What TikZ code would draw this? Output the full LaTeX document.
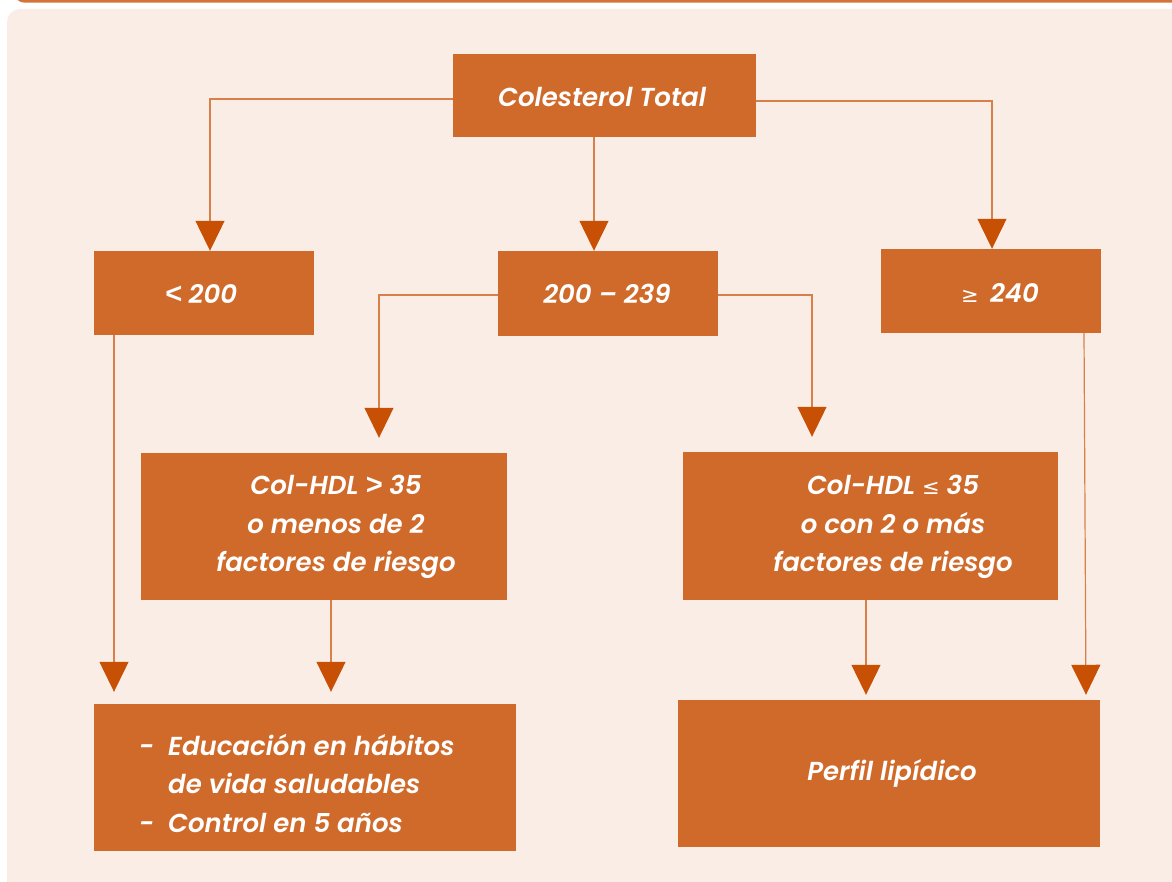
\documentclass[tikz,border=0pt]{standalone}
\usepackage{fontspec}
\setmainfont{Poppins}[UprightFont={* SemiBold}, ItalicFont={* SemiBold Italic}]
\newfontfamily\symfont{DejaVu Sans}
\newfontfamily\ltfont{Liberation Sans}[UprightFont={* Bold Italic}]
\usetikzlibrary{arrows.meta}
\definecolor{panel}{HTML}{FAEDE5}
\definecolor{boxc}{HTML}{D06A2A}
\definecolor{tipc}{HTML}{C85005}
\definecolor{linec}{HTML}{D9804A}
\definecolor{topc}{HTML}{D4733A}
\newcommand{\cmpsym}[1]{{\ltfont\upshape\fontsize{29}{29}\selectfont #1}}
\newcommand{\eqsym}[1]{{\symfont\upshape\fontsize{21}{21}\selectfont #1}}
\begin{document}
\begin{tikzpicture}[x=1pt,y=-1pt,
  box/.style={fill=boxc, draw=none, inner sep=0pt},
  txt/.style={text=white, inner sep=0pt, align=center, font=\fontsize{26}{38.5}\selectfont\itshape},
  conn/.style={draw=linec, line width=1.2pt, -{Triangle[width=29pt,length=30pt,color=tipc,fill=tipc]}}
]
\useasboundingbox (0,0) rectangle (1172,882);
\fill[white] (0,0) rectangle (1172,882);
% top rule and panel
\begin{scope}
\clip (0,0) rectangle (1172,882);
\fill[topc, rounded corners=9pt] (15,-20) rectangle (1200,2.6);
\fill[panel, rounded corners=13pt] (7,9) rectangle (1210,920);
\end{scope}

% boxes
\node[box, minimum width=303pt, minimum height=83pt] (top) at (604.5,95.5) {};
\node[box, minimum width=220pt, minimum height=84pt] (lt) at (204,293) {};
\node[box, minimum width=220pt, minimum height=85pt] (mid) at (608,293.5) {};
\node[box, minimum width=220pt, minimum height=84pt] (rt) at (991,291) {};
\node[box, minimum width=366pt, minimum height=147pt] (hdla) at (324,526.5) {};
\node[box, minimum width=375pt, minimum height=148pt] (hdlb) at (870.5,526) {};
\node[box, minimum width=422pt, minimum height=147pt] (edu) at (305,777.5) {};
\node[box, minimum width=422pt, minimum height=147pt] (perf) at (889,773.5) {};

% texts
\node[txt, anchor=base] (ttop) at (602,107) {Colesterol Total};
\node[txt, anchor=base] (tlt) at (201,304) {\cmpsym{<} 200};
\node[txt, anchor=base] (tmid) at (607,304) {200 – 239};
\node[txt, anchor=base] (trt) at (1000,303) {\eqsym{≥}\, 240};
\node[txt] (thdla) at (336,527) {Col-HDL \cmpsym{>} 35\\o menos de 2\\factores de riesgo};
\node[txt] (thdlb) at (893,527) {Col-HDL \eqsym{≤} 35\\o con 2 o más\\factores de riesgo};
\node[txt, anchor=west, align=left] (tedu) at (139,786) {%
  \begin{tabular}{@{}l@{}l@{}}
  \makebox[29pt][l]{-} & Educación en hábitos\\
  & de vida saludables\\
  \makebox[29pt][l]{-} & Control en 5 años
  \end{tabular}};
\node[txt, anchor=base] (tperf) at (892,780) {Perfil lipídico};

% connectors
\draw[conn] ([yshift=-3.5pt]top.west) -| ([xshift=6pt]lt.north);
\draw[conn] ([yshift=-5.5pt]top.east) -| ([xshift=1pt]rt.north);
\draw[conn] ([xshift=-10.5pt]top.south) -- ([xshift=-14pt]mid.north);
\draw[conn] ([yshift=-1.5pt]mid.west) -| ([xshift=55pt,yshift=15pt]hdla.north);
\draw[conn] ([yshift=-1.5pt]mid.east) -| ([xshift=-58.5pt,yshift=15pt]hdlb.north);
\draw[conn] ([xshift=-90pt]lt.south) -- ([xshift=-191pt,yshift=12pt]edu.north);
\draw[conn] ([xshift=7pt]hdla.south) -- ([xshift=26pt,yshift=12pt]edu.north);
\draw[conn] ([xshift=-4.5pt]hdlb.south) -- ([xshift=-23pt,yshift=5pt]perf.north);
\draw[conn] ([xshift=93pt]rt.south) -- ([xshift=197pt,yshift=5pt]perf.north);
\end{tikzpicture}
\end{document}
